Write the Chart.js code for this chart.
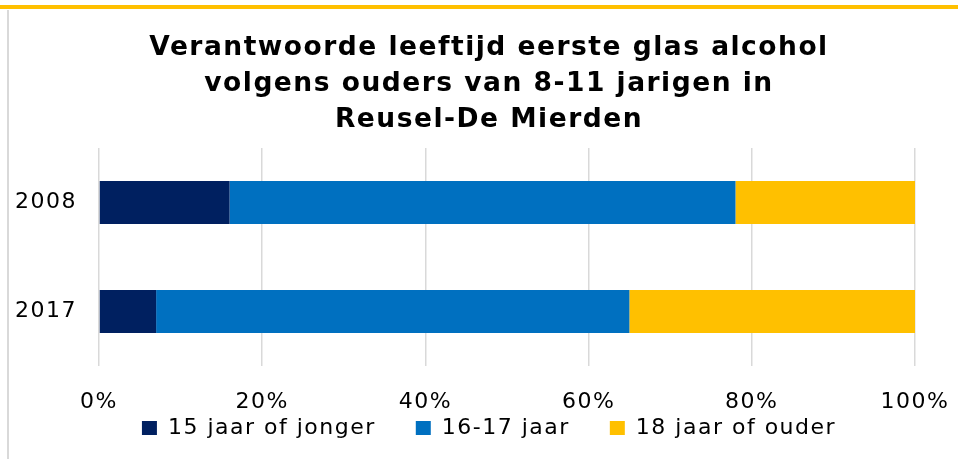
<!DOCTYPE html>
<html>
<head>
<meta charset="utf-8">
<script src="https://cdn.jsdelivr.net/npm/chart.js@4"></script>
<style>
  html, body { margin: 0; padding: 0; background: #fff; }
  #wrap { position: relative; width: 958px; height: 459px; overflow: hidden; }
  #topline { position: absolute; left: 0; top: 5px; width: 958px; height: 4px; background: #FFC000; }
  #leftline { position: absolute; left: 7px; top: 10px; width: 2px; height: 449px; background: #d9d9d9; }
  canvas { position: absolute; left: 0; top: 0; }
</style>
</head>
<body>
<div id="wrap">
  <div id="topline"></div>
  <div id="leftline"></div>
  <!-- the original chart box runs a little past the right edge of the picture -->
  <canvas id="chart" width="978" height="459"></canvas>
</div>
<script>
// data (percentages)
const categories = ["2008", "2017"];
const jonger = [16, 7];
const middel = [62, 58];
const ouder = [22, 35];
const seriesNames = ["15 jaar of jonger", "16-17 jaar", "18 jaar of ouder"];
const tickValues = [0, 20, 40, 60, 80, 100];

const titleLines = [
  "Verantwoorde leeftijd eerste glas alcohol",
  "volgens ouders van 8-11 jarigen in",
  "Reusel-De Mierden"
];

// original uses a wider font (Verdana-like), so widen DejaVu a bit.
// the canvas state gets reset on resize, so set it again before layout and draw
const spacing = {
  id: "spacing",
  beforeUpdate(chart) { chart.ctx.letterSpacing = "1.5px"; },
  beforeDraw(chart) { chart.ctx.letterSpacing = "1.5px"; }
};

const ctx = document.getElementById("chart").getContext("2d");
new Chart(ctx, {
  type: "bar",
  data: {
    labels: categories,
    datasets: [
      { label: seriesNames[0], data: jonger, backgroundColor: "#002060" },
      { label: seriesNames[1], data: middel, backgroundColor: "#0070C0" },
      { label: seriesNames[2], data: ouder, backgroundColor: "#FFC000" }
    ]
  },
  plugins: [spacing],
  options: {
    indexAxis: "y",
    responsive: false,
    animation: false,
    barPercentage: 0.5,
    categoryPercentage: 0.79,
    layout: { padding: { left: 0, right: 0, top: 0, bottom: 10 } },
    plugins: {
      title: {
        display: true,
        text: titleLines,
        color: "#000",
        font: { family: "DejaVu Sans", size: 26.5, weight: "bold", lineHeight: 36 / 26.5 },
        padding: { top: 30, bottom: 10 }
      },
      legend: {
        position: "bottom",
        labels: {
          color: "#000",
          font: { family: "DejaVu Sans", size: 22 },
          boxWidth: 15,
          boxHeight: 14,
          padding: 40
        }
      },
      tooltip: { enabled: false }
    },
    scales: {
      x: {
        stacked: true,
        min: 0,
        max: 100,
        afterBuildTicks: (scale) => { scale.ticks = tickValues.map(v => ({ value: v })); },
        ticks: {
          color: "#000",
          font: { family: "DejaVu Sans", size: 22 },
          // mirror + negative padding: labels sit below a thin axis box and are not clipped
          mirror: true,
          padding: -49,
          callback: (v) => v + "%"
        },
        grid: { color: "#d9d9d9", lineWidth: 1.5, drawTicks: false },
        border: { display: false },
        afterFit: (scale) => {
          scale.height = 11;
          scale.paddingLeft = 0;
          scale.paddingRight = 63;
        }
      },
      y: {
        stacked: true,
        ticks: {
          color: "#000",
          font: { family: "DejaVu Sans", size: 22 },
          padding: 22
        },
        grid: { display: false, drawTicks: false },
        border: { display: false },
        afterFit: (scale) => { scale.width = 99; }
      }
    }
  }
});
</script>
</body>
</html>
